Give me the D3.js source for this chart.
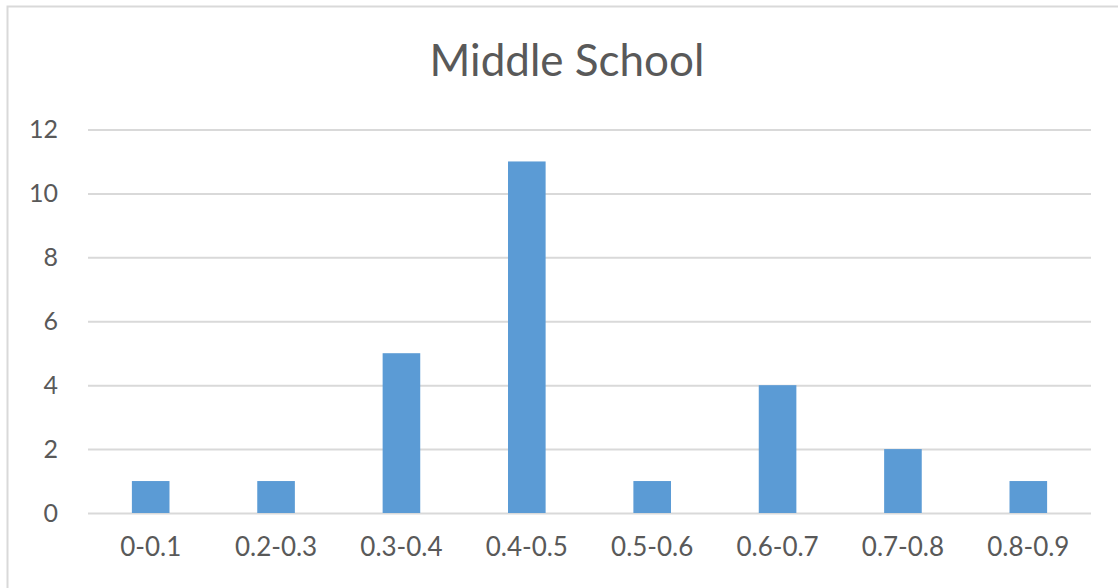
<!DOCTYPE html>
<html>
<head>
<meta charset="utf-8">
<script src="https://cdn.jsdelivr.net/npm/d3@7"></script>
<style>
  html, body { margin: 0; padding: 0; background: #fff; }
  svg { display: block; }
</style>
</head>
<body>
<svg id="chart" width="1118" height="588"></svg>
<script>
// Score ranges and how many schools fall in each
const categories = ["0-0.1", "0.2-0.3", "0.3-0.4", "0.4-0.5", "0.5-0.6", "0.6-0.7", "0.7-0.8", "0.8-0.9"];
const counts = [1, 1, 5, 11, 1, 4, 2, 1];
const yTicks = [0, 2, 4, 6, 8, 10, 12];
const title = "Middle School";

const W = 1118, H = 588;
const plot = { left: 88, right: 1091, top: 129.5, bottom: 513 };
const font = "Lato, 'Open Sans', sans-serif";
const textColor = "#595959";

const svg = d3.select("#chart");

// chart frame
svg.append("rect")
  .attr("x", 7.5).attr("y", 6.5)
  .attr("width", W).attr("height", H)
  .attr("fill", "#fff")
  .attr("stroke", "#d9d9d9").attr("stroke-width", 2);

const x = d3.scaleBand()
  .domain(categories)
  .range([plot.left, plot.right])
  .paddingInner(0.7).paddingOuter(0.35);

const y = d3.scaleLinear()
  .domain([0, 12])
  .range([plot.bottom, plot.top]);

// gridlines and y labels
const yAxis = d3.axisLeft(y).tickValues(yTicks).tickSize(-(plot.right - plot.left)).tickPadding(30);
const gy = svg.append("g").attr("transform", `translate(${plot.left},0)`).call(yAxis);
gy.select(".domain").remove();
gy.selectAll(".tick line").attr("stroke", "#d9d9d9").attr("stroke-width", 2);
gy.selectAll(".tick text")
  .attr("fill", textColor)
  .style("font-family", font)
  .style("font-size", "25px");

// bars
svg.append("g").selectAll("rect")
  .data(counts)
  .join("rect")
  .attr("x", (d, i) => x(categories[i]))
  .attr("width", x.bandwidth())
  .attr("y", d => y(d))
  .attr("height", d => y(0) - y(d))
  .attr("fill", "#5b9bd5");

// category labels
const xAxis = d3.axisBottom(x).tickSize(0).tickPadding(25);
const gx = svg.append("g").attr("transform", `translate(0,${plot.bottom})`).call(xAxis);
gx.select(".domain").remove();
gx.selectAll(".tick text")
  .attr("fill", textColor)
  .style("font-family", font)
  .style("font-size", "26px");

// title
svg.append("text")
  .attr("x", 567).attr("y", 76)
  .attr("text-anchor", "middle")
  .attr("fill", textColor)
  .style("font-family", font)
  .style("font-size", "44px")
  .text(title);
</script>
</body>
</html>
